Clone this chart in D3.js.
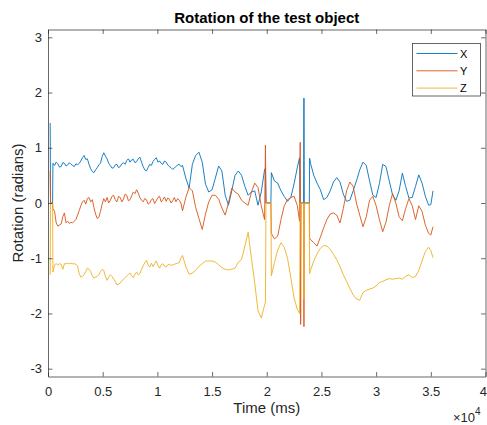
<!DOCTYPE html>
<html>
<head>
<meta charset="utf-8">
<script src="https://cdn.jsdelivr.net/npm/d3@7"></script>
<style>
  body { margin: 0; background: #fff; }
  svg { display: block; font-family: "Liberation Sans", Arial, Helvetica, sans-serif; }
</style>
</head>
<body>
<svg id="chart" width="487" height="425"></svg>
<script>
// Sample times (ms) shared by the three rotation channels
const timeMs = [
  200, 230, 420, 450,
  600, 750, 900, 1050, 1200, 1350, 1500, 1650, 1800, 1950,
  2100, 2250, 2400, 2550, 2700, 2850, 3000, 3150, 3300, 3450,
  3600, 3750, 3900, 4050, 4200, 4350, 4500, 4650, 4800, 4950,
  5100, 5250, 5400, 5550, 5700, 5850, 6000, 6150, 6300, 6450,
  6600, 6750, 6900, 7050, 7200, 7350, 7500, 7650, 7800, 7950,
  8100, 8250, 8400, 8550, 8700, 8850, 9000, 9150, 9300, 9450,
  9600, 9750, 9900, 10050, 10200, 10350, 10500, 10650, 10800, 10950,
  11100, 11250, 11400, 11550, 11700, 11850, 12000, 12150, 12300,
  12600, 12900, 13200, 13500, 13800, 14100,
  14400, 14700, 15000, 15300, 15600, 15900, 16200, 16500, 16800, 17100,
  17400, 17700, 18000, 18300, 18600, 18900, 19200, 19500, 19800, 19880,
  19930, 20380, 20420, 20700, 21000, 21300, 21600, 21900, 22200, 22500,
  22800, 23000, 23060, 23100, 23140, 23370, 23400, 23430, 23890, 23920,
  24000, 24300, 24600, 24900, 25200, 25500, 25800, 26100, 26400, 26700,
  27000, 27300, 27600, 27900, 28200, 28500, 28800, 29100, 29400, 29700,
  30000, 30300, 30600, 30900, 31200, 31500, 31800, 32100, 32400, 32700,
  33000, 33300, 33600, 33900, 34200, 34500, 34800, 35000, 35200
];

// Rotation about each axis (radians)
const rotX = [
  1.45, 0, 0, 0.72,
  0.68, 0.74, 0.71, 0.65, 0.66, 0.73, 0.72, 0.67, 0.69, 0.73,
  0.70, 0.68, 0.66, 0.71, 0.69, 0.72, 0.76, 0.82, 0.86, 0.79,
  0.80, 0.70, 0.62, 0.57, 0.55, 0.60, 0.64, 0.69, 0.72, 0.84,
  0.91, 0.85, 0.80, 0.72, 0.68, 0.63, 0.64, 0.69, 0.70, 0.64,
  0.66, 0.71, 0.73, 0.70, 0.77, 0.80, 0.74, 0.78, 0.79, 0.73,
  0.75, 0.80, 0.83, 0.74, 0.66, 0.60, 0.58, 0.64, 0.70, 0.68,
  0.75, 0.79, 0.82, 0.74, 0.76, 0.72, 0.70, 0.76, 0.74, 0.69,
  0.66, 0.64, 0.61, 0.63, 0.66, 0.69, 0.70, 0.66, 0.68,
  0.45, 0.27, 0.70, 0.86, 0.92, 0.74,
  0.34, 0.20, 0.24, 0.45, 0.67, 0.58, 0.14, -0.04, 0.22, 0.50,
  0.58, 0.50, 0.30, 0.14, 0.20, 0.22, -0.04, 0.20, 0.60, 0.63,
  0, 0, 0.55, 0.40, 0.36, 0.22, 0.12, 0.03, 0.10, 0.35,
  0.65, 0.82, 0, 0, 0, 0, 1.90, 0, 0, 0.81,
  0.72, 0.50, 0.36, 0.24, 0.06, 0.10, 0.22, 0.38, 0.46, 0.38,
  0.16, 0.03, 0.05, 0.22, 0.40, 0.60, 0.74, 0.68, 0.40, 0.14,
  0.10, 0.35, 0.70, 0.66, 0.40, 0.15, 0.05, 0.22, 0.54, 0.30,
  0.09, 0.10, 0.30, 0.51, 0.36, 0.12, -0.04, -0.03, 0.22
];

const rotY = [
  0.58, 0, 0, -0.10,
  -0.15, -0.36, -0.42, -0.40, -0.38, -0.25, -0.18, -0.36, -0.33, -0.37,
  -0.35, -0.36, -0.33, -0.30, -0.22, -0.14, -0.05, 0.02, 0.05, -0.02,
  0.08, 0.10, 0.02, 0.06, -0.08, -0.20, -0.28, -0.26, -0.15, -0.02,
  0.08, 0.02, 0.10, 0.00, 0.05, 0.12, 0.14, 0.06, 0.02, 0.12,
  0.10, 0.02, 0.07, 0.16, 0.14, 0.04, 0.06, 0.13, 0.20, 0.17,
  0.24, 0.18, 0.10, 0.05, 0.02, 0.08, 0.06, -0.02, 0.00, 0.06,
  0.08, -0.01, 0.04, 0.10, 0.12, 0.02, 0.06, 0.11, 0.03, 0.09,
  0.07, 0.00, 0.04, 0.10, 0.02, 0.08, 0.05, 0.00, -0.14,
  0.10, 0.28, 0.22, -0.08, -0.28, -0.48,
  -0.20, 0.02, 0.14, 0.14, 0.07, -0.09, -0.22, 0.00, 0.27, 0.20,
  0.16, 0.05, 0.00, -0.04, 0.20, 0.36, 0.28, -0.05, -0.30, 1.05,
  0, 0, -0.55, -0.65, -0.60, -0.30, -0.05, 0.06, 0.10, 0.12,
  -0.05, -0.33, 1.10, -2.20, 0, 0, -2.24, 0, 0, -0.63,
  -0.66, -0.72, -0.78, -0.62, -0.45, -0.30, -0.20, -0.18, -0.22, -0.36,
  -0.10, 0.22, 0.38, 0.30, 0.00, -0.22, -0.43, -0.25, 0.05, 0.12,
  -0.05, -0.30, -0.52, -0.35, -0.05, 0.17, 0.00, -0.25, -0.32, -0.10,
  0.08, -0.05, -0.30, -0.05, -0.15, -0.40, -0.55, -0.58, -0.43
];

const rotZ = [
  -1.30, 0, 0, -1.25,
  -1.12, -1.10, -1.12, -1.10, -1.11, -1.20, -1.10, -1.10, -1.09, -1.10,
  -1.09, -1.10, -1.10, -1.11, -1.14, -1.28, -1.34, -1.33, -1.30, -1.24,
  -1.18, -1.20, -1.24, -1.32, -1.36, -1.34, -1.33, -1.30, -1.24, -1.20,
  -1.22, -1.33, -1.40, -1.34, -1.30, -1.33, -1.38, -1.42, -1.48, -1.47,
  -1.45, -1.41, -1.38, -1.35, -1.32, -1.29, -1.27, -1.32, -1.35, -1.29,
  -1.25, -1.30, -1.28, -1.20, -1.14, -1.08, -1.04, -1.12, -1.16, -1.09,
  -1.15, -1.10, -1.05, -1.13, -1.18, -1.12, -1.10, -1.14, -1.16, -1.12,
  -1.11, -1.13, -1.12, -1.11, -1.10, -1.09, -1.08, -1.00, -0.95,
  -1.15, -1.29, -1.27, -1.22, -1.15, -1.10,
  -1.05, -1.05, -1.05, -1.07, -1.12, -1.17, -1.20, -1.21, -1.20, -1.18,
  -1.07, -1.02, -0.78, -0.53, -1.00, -1.45, -1.95, -2.08, -1.85, -1.80,
  0, 0, -1.32, -1.08, -0.85, -0.72, -0.80, -1.00, -1.35, -1.72,
  -1.93, -2.00, 0, 0, 0, 0, -1.75, 0, 0, -1.28,
  -1.22, -1.05, -0.92, -0.82, -0.77, -0.78, -0.84, -0.93, -1.03, -1.15,
  -1.30, -1.42, -1.55, -1.66, -1.74, -1.76, -1.62, -1.58, -1.56, -1.54,
  -1.50, -1.44, -1.42, -1.39, -1.37, -1.38, -1.37, -1.36, -1.38, -1.33,
  -1.30, -1.35, -1.33, -1.22, -1.05, -0.88, -0.80, -0.86, -0.99
];

const seriesNames = ["X", "Y", "Z"];
const seriesColors = ["#0072BD", "#D95319", "#EDB120"];

const xTicks = [0, 5000, 10000, 15000, 20000, 25000, 30000, 35000, 40000];
const xTickLabels = ["0", "0.5", "1", "1.5", "2", "2.5", "3", "3.5", "4"];
const yTicks = [-3, -2, -1, 0, 1, 2, 3];

const svg = d3.select("#chart");
const W = 487;
const box = { left: 48, right: 485.5, top: 29.5, bottom: 376.5 };
const axisColor = "#262626";
const tickLen = 4.4;

const x = d3.scaleLinear().domain([0, 40000]).range([box.left, box.right]);
const y = d3.scaleLinear().domain([-Math.PI, Math.PI]).range([box.bottom, box.top]);

svg.append("defs").append("clipPath").attr("id", "plotClip")
  .append("rect")
  .attr("x", box.left).attr("y", box.top)
  .attr("width", box.right - box.left).attr("height", box.bottom - box.top);

// Data lines
const series = [rotX, rotY, rotZ].map((vals, i) => ({
  name: seriesNames[i],
  color: seriesColors[i],
  points: timeMs.map((t, k) => [t, vals[k]])
}));

const line = d3.line().x(d => x(d[0])).y(d => y(d[1]));

svg.append("g").attr("clip-path", "url(#plotClip)")
  .selectAll("path")
  .data(series)
  .join("path")
  .attr("fill", "none")
  .attr("stroke", d => d.color)
  .attr("stroke-width", 0.9)
  .attr("stroke-linejoin", "round")
  .attr("d", d => line(d.points));

// Axes (ticks point inward, box on all four sides)
function styleAxis(g) {
  g.selectAll(".domain").attr("stroke", axisColor).attr("stroke-width", 0.7);
  g.selectAll(".tick line").attr("stroke", axisColor).attr("stroke-width", 0.7);
  g.selectAll(".tick text")
    .attr("fill", axisColor)
    .style("font-size", "13px")
    .style("font-family", '"Liberation Sans", Arial, sans-serif');
}

const xAxisG = svg.append("g")
  .attr("transform", `translate(0,${box.bottom})`)
  .call(d3.axisBottom(x).tickValues(xTicks)
    .tickFormat((d, i) => xTickLabels[i])
    .tickSizeInner(-tickLen).tickSizeOuter(0).tickPadding(10.5))
  .call(styleAxis);

// keep the last tick label inside the page edge
xAxisG.selectAll(".tick text")
  .filter(d => d === xTicks[xTicks.length - 1])
  .attr("text-anchor", "end")
  .attr("x", W - 0.5 - x(xTicks[xTicks.length - 1]));

svg.append("g")
  .attr("transform", `translate(0,${box.top})`)
  .call(d3.axisTop(x).tickValues(xTicks).tickFormat("")
    .tickSizeInner(-tickLen).tickSizeOuter(0))
  .call(styleAxis);

svg.append("g")
  .attr("transform", `translate(${box.left},0)`)
  .call(d3.axisLeft(y).tickValues(yTicks).tickFormat(d3.format("d"))
    .tickSizeInner(-tickLen).tickSizeOuter(0).tickPadding(6))
  .call(styleAxis);

svg.append("g")
  .attr("transform", `translate(${box.right},0)`)
  .call(d3.axisRight(y).tickValues(yTicks).tickFormat("")
    .tickSizeInner(-tickLen).tickSizeOuter(0))
  .call(styleAxis);

// Axis minus signs use a plain hyphen
svg.selectAll(".tick text").text(function () { return this.textContent.replace("\u2212", "-"); });

// Exponent marker for the time axis
const expo = svg.append("text")
  .attr("x", 453).attr("y", 421.5)
  .attr("fill", axisColor)
  .style("font-size", "13px");
expo.append("tspan").text("\u00d710");
expo.append("tspan").attr("dy", -7).style("font-size", "10px").text("4");

// Title and axis labels
svg.append("text")
  .attr("x", (box.left + box.right) / 2).attr("y", 23)
  .attr("text-anchor", "middle")
  .attr("fill", "#000")
  .style("font-size", "15px").style("font-weight", "bold")
  .text("Rotation of the test object");

svg.append("text")
  .attr("x", (box.left + box.right) / 2).attr("y", 413)
  .attr("text-anchor", "middle")
  .attr("fill", axisColor)
  .style("font-size", "15px")
  .text("Time (ms)");

svg.append("text")
  .attr("transform", `translate(23,${(box.top + box.bottom) / 2}) rotate(-90)`)
  .attr("text-anchor", "middle")
  .attr("fill", axisColor)
  .style("font-size", "15px")
  .text("Rotation (radians)");

// Legend
const legend = svg.append("g").attr("transform", "translate(412.5,43.5)");
legend.append("rect")
  .attr("width", 68).attr("height", 52.5)
  .attr("fill", "#fff")
  .attr("stroke", axisColor).attr("stroke-width", 0.7);

const entry = legend.selectAll("g.entry")
  .data(series)
  .join("g")
  .attr("class", "entry")
  .attr("transform", (d, i) => `translate(0,${10 + i * 17.3})`);

entry.append("line")
  .attr("x1", 4).attr("x2", 45)
  .attr("stroke", d => d.color).attr("stroke-width", 0.9);

entry.append("text")
  .attr("x", 47.5).attr("y", 4)
  .attr("fill", "#000")
  .style("font-size", "11px")
  .text(d => d.name);
</script>
</body>
</html>
